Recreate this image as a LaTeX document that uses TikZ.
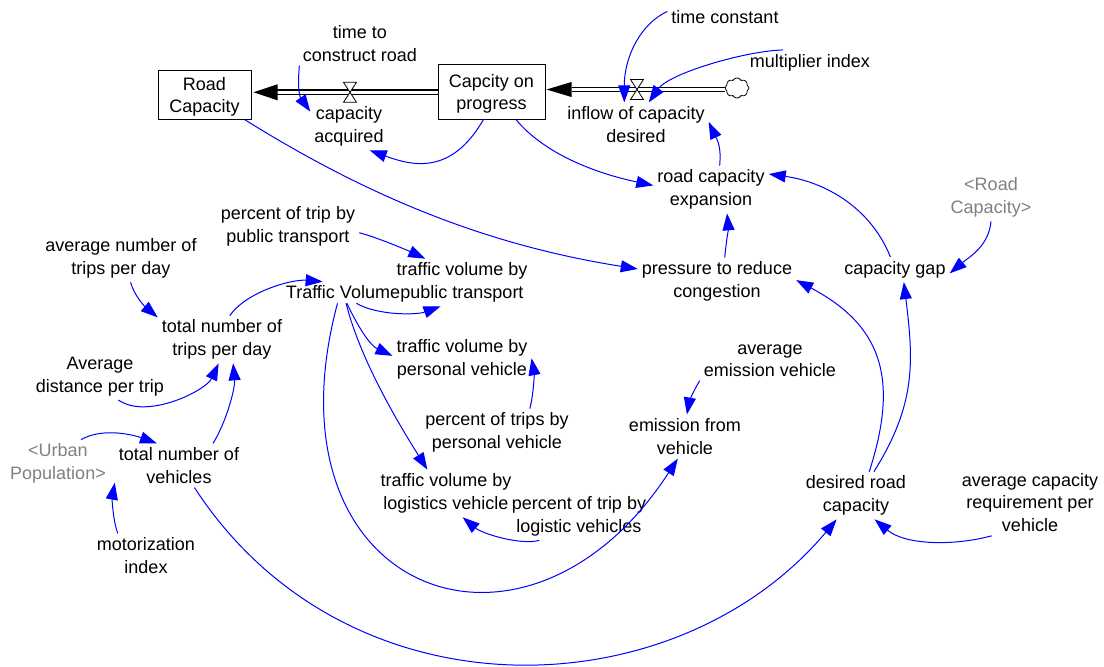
\documentclass[tikz,border=0pt]{standalone}
\usepackage{fontspec}
\setmainfont{Liberation Sans}
\usetikzlibrary{arrows.meta,calc,shapes.symbols}
\definecolor{linkblue}{RGB}{0,0,255}
\definecolor{shadowgrey}{RGB}{128,128,128}

\begin{document}
\begin{tikzpicture}[x=1pt,y=1pt,
  var/.style={align=center, inner sep=4pt, yshift=-1.5pt, font=\fontsize{18}{22.5}\selectfont},
  shadowvar/.style={var, text=shadowgrey},
  stock/.style={draw, line width=1pt, inner sep=0pt},
  stocktext/.style={align=center, inner sep=0pt, font=\fontsize{18}{22.5}\selectfont},
  link/.style={draw=linkblue, line width=1pt,
               -{Triangle[length=17pt,width=12pt]}},
  pipe/.style={draw, double, double distance=3.5pt, line width=1.2pt},
  valve/.style={fill=white, draw=black, line width=0.8pt},
  source/.style={cloud, draw, cloud puffs=8, cloud puff arc=120, aspect=1.2,
                 minimum width=24pt, minimum height=20pt, inner sep=0pt, line width=0.8pt}
]
\useasboundingbox (0,0) rectangle (1104,-667);

% stocks
\node[stock, minimum width=93pt, minimum height=49pt] (rc) at (204.5,-94.5) {};
\node[stocktext] (rctext) at ($(rc)+(0,-2.5)$) {Road\\Capacity};
\node[stock, minimum width=107pt, minimum height=55pt] (cop) at (491.5,-91.5) {};
\node[stocktext] (coptext) at ($(cop)+(0,-2.5)$) {Capcity on\\progress};

% flow valves and source cloud
\coordinate (v1) at (350,-92.3);
\coordinate (v2) at (637,-89.5);
\node[source] (src) at (737,-88) {};

% pipes with their heads
\draw[pipe] (cop.west |- v1) -- ($(rc.east |- v1)+(25,0)$);
\fill ($(rc.east |- v1)+(2,0)$) -- ++(24,8) -- ++(0,-16) -- cycle;
\draw[pipe] (src.west |- v2) -- ($(cop.east |- v2)+(26,0)$);
\fill ($(cop.east |- v2)+(1,0)$) -- ++(25,7.5) -- ++(0,-15) -- cycle;

\foreach \v in {v1,v2}
  \filldraw[valve] ($(\v)+(-6.5,10)$) -- ($(\v)+(6.5,10)$) -- ($(\v)+(-6.5,-10)$) -- ($(\v)+(6.5,-10)$) -- cycle;

% variables
\node[var] (ca)   at (349,-125)  {capacity\\acquired};
\node[var] (icd)  at (636,-123)  {inflow of capacity\\desired};
\node[var] (ttc)  at (360,-42)   {time to\\construct road};
\node[var] (tc)   at (725,-16)   {time constant};
\node[var] (mi)   at (810,-61)   {multiplier index};
\node[var] (rce)  at (711,-188)  {road capacity\\expansion};
\node[var] (prc)  at (717,-280)  {pressure to reduce\\congestion};
\node[var] (cg)   at (895,-268)  {capacity gap};
\node[shadowvar] (rcs) at (991,-196) {<Road\\Capacity>};
\node[var] (ptpt) at (288,-225)  {percent of trip by\\public transport};
\node[var] (anp)  at (121,-257)  {average number of\\trips per day};
\node[var] (tnt)  at (222,-338)  {total number of\\trips per day};
\node[var] (tv)   at (343,-291)  {Traffic Volume};
\node[var] (tvpt) at (462,-281)  {traffic volume by\\public transport};
\node[var] (tvpv) at (462,-358)  {traffic volume by\\personal vehicle};
\node[var] (ptpv) at (497,-431)  {percent of trips by\\personal vehicle};
\node[var] (tvlv) at (446,-492)  {traffic volume by\\logistics vehicle};
\node[var] (ptlv) at (579,-515)  {percent of trip by\\logistic vehicles};
\node[var] (aev)  at (770,-359)  {average\\emission vehicle};
\node[var] (efv)  at (685,-435)  {emission from\\vehicle};
\node[var] (drc)  at (856,-494)  {desired road\\capacity};
\node[var] (acr)  at (1030,-501) {average capacity\\requirement per\\vehicle};
\node[var] (adp)  at (100,-375)  {Average\\distance per trip};
\node[var] (tnv)  at (179,-464)  {total number of\\vehicles};
\node[shadowvar] (up) at (58,-462) {<Urban\\Population>};
\node[var] (mot)  at (146,-554)  {motorization\\index};

% causal links
\draw[link] (ttc.200) .. controls +(265:25) and +(125:18) .. (ca.159);
\draw[link] (cop.254) .. controls +(240:65) and +(-20:45) .. (ca.311);
\draw[link] (rc.-32) .. controls +(-32:150) and +(171:150) .. (prc.171);
\draw[link] (cop.-49) .. controls +(-50:50) and +(168:50) .. (rce.176);
\draw[link] (rce.70) .. controls +(85:20) and +(-65:20) .. (icd.2);
\draw[link] (tc.174) .. controls +(205:30) and +(90:45) .. (icd.118);
\draw[link] (mi.155) .. controls +(182:40) and +(55:35) .. (icd.60);
\draw[link] (rcs.270) .. controls +(265:25) and +(40:25) .. (cg.-4);
\draw[link] (cg.110) .. controls +(112:55) and +(-8:55) .. (rce.15);
\draw[link] (prc.72) .. controls +(85:15) and +(-85:15) .. (rce.-56);
\draw[link] (drc.61) .. controls +(72:100) and +(-28:95) .. (prc.1);
\draw[link] (drc.53) .. controls +(58:80) and +(-83:80) .. (cg.-55);
\draw[link] (acr.221) .. controls +(195:40) and +(-40:40) .. (drc.-52);
\draw[link] (tnv.-55) .. controls +(-57:280) and +(230:250) .. (drc.231);
\draw[link] (tv.243) .. controls +(255:300) and +(237:280) .. (efv.252);
\draw[link] (tv.-74) .. controls +(-76:60) and +(122:50) .. (tvlv.128);
\draw[link] (tv.-70) .. controls +(-65:25) and +(155:25) .. (tvpv.177);
\draw[link] (tv.-39) .. controls +(-30:25) and +(200:25) .. (tvpt.228);
\draw[link] (ptpt.-5) .. controls +(-15:20) and +(155:20) .. (tvpt.147);
\draw[link] (anp.-68) .. controls +(-75:15) and +(140:15) .. (tnt.161);
\draw[link] (tnt.72) .. controls +(55:30) and +(175:30) .. (tv.152);
\draw[link] (adp.-52) .. controls +(-35:35) and +(245:30) .. (tnt.262);
\draw[link] (tnv.33) .. controls +(58:25) and +(-85:25) .. (tnt.-65);
\draw[link] (up.46) .. controls +(30:25) and +(160:25) .. (tnv.135);
\draw[link] (mot.142) .. controls +(110:15) and +(-100:15) .. (tnv.195);
\draw[link] (ptpv.36) .. controls +(75:15) and +(-80:15) .. (tvpv.1);
\draw[link] (ptlv.211) .. controls +(195:20) and +(-40:25) .. (tvlv.-55);
\draw[link] (aev.196) .. controls +(238:12) and +(80:12) .. (efv.85);
\end{tikzpicture}
\end{document}
